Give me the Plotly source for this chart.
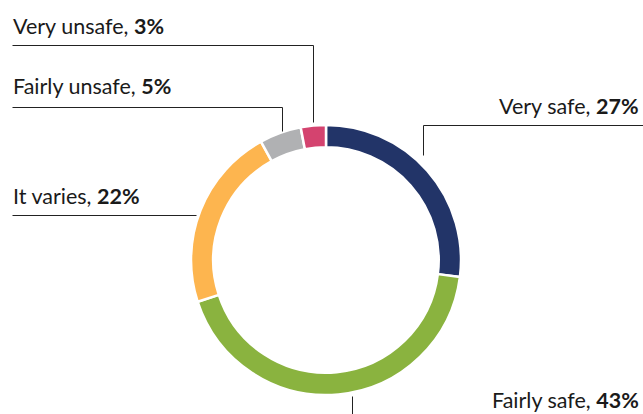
import plotly.graph_objects as go

labels = ["Very safe", "Fairly safe", "It varies", "Fairly unsafe", "Very unsafe"]
values = [27, 43, 22, 5, 3]
colors = ["#223468", "#8ab33f", "#fdb54f", "#b0b1b3", "#d4436f"]

W, H = 643, 414
FONT = "Lato"
FS = 21.5

def px(x):
    return x / W

def py(y):
    return 1 - y / H

fig = go.Figure(go.Pie(
    labels=labels, values=values, sort=False, direction="clockwise", rotation=0,
    hole=0.835, textinfo="none", hoverinfo="skip",
    marker=dict(colors=colors, line=dict(color="white", width=2.5)),
    domain=dict(x=[px(191), px(461)], y=[py(395), py(125)]),
    showlegend=False,
))

# label layout: (label index, text x, text y center, anchor, leader polyline in px)
label_layout = [
    (4, 12, 26, "left", [(12, 45), (313, 45), (313, 122)]),
    (3, 12, 86, "left", [(12, 107), (282, 107), (282, 131)]),
    (2, 12, 196, "left", [(12, 215), (196, 215)]),
    (0, 640, 106, "right", [(423, 155), (423, 125), (643, 125)]),
    (1, 640, 400, "right", [(352, 396), (352, 414)]),
]

annotations = []
shapes = []
for idx, tx, ty, anchor, pts in label_layout:
    annotations.append(dict(
        x=px(tx), y=py(ty), xref="paper", yref="paper",
        xanchor=anchor, yanchor="middle", showarrow=False,
        text=f"{labels[idx]}, <b>{values[idx]}%</b>",
        font=dict(family=FONT, size=FS, color="#1a1a1a"),
        borderpad=0,
    ))
    for (x0, y0), (x1, y1) in zip(pts[:-1], pts[1:]):
        shapes.append(dict(
            type="line", xref="paper", yref="paper",
            x0=px(x0 + 0.5), y0=py(y0 + 0.5), x1=px(x1 + 0.5), y1=py(y1 + 0.5),
            line=dict(color="#222222", width=1),
        ))

fig.update_layout(
    width=W, height=H, margin=dict(l=0, r=0, t=0, b=0),
    paper_bgcolor="white", plot_bgcolor="white",
    annotations=annotations, shapes=shapes,
)

fig.write_html(
    "out.html",
    config={"displayModeBar": False},
    post_script="document.body.style.margin='0';document.body.style.overflow='hidden';",
)
